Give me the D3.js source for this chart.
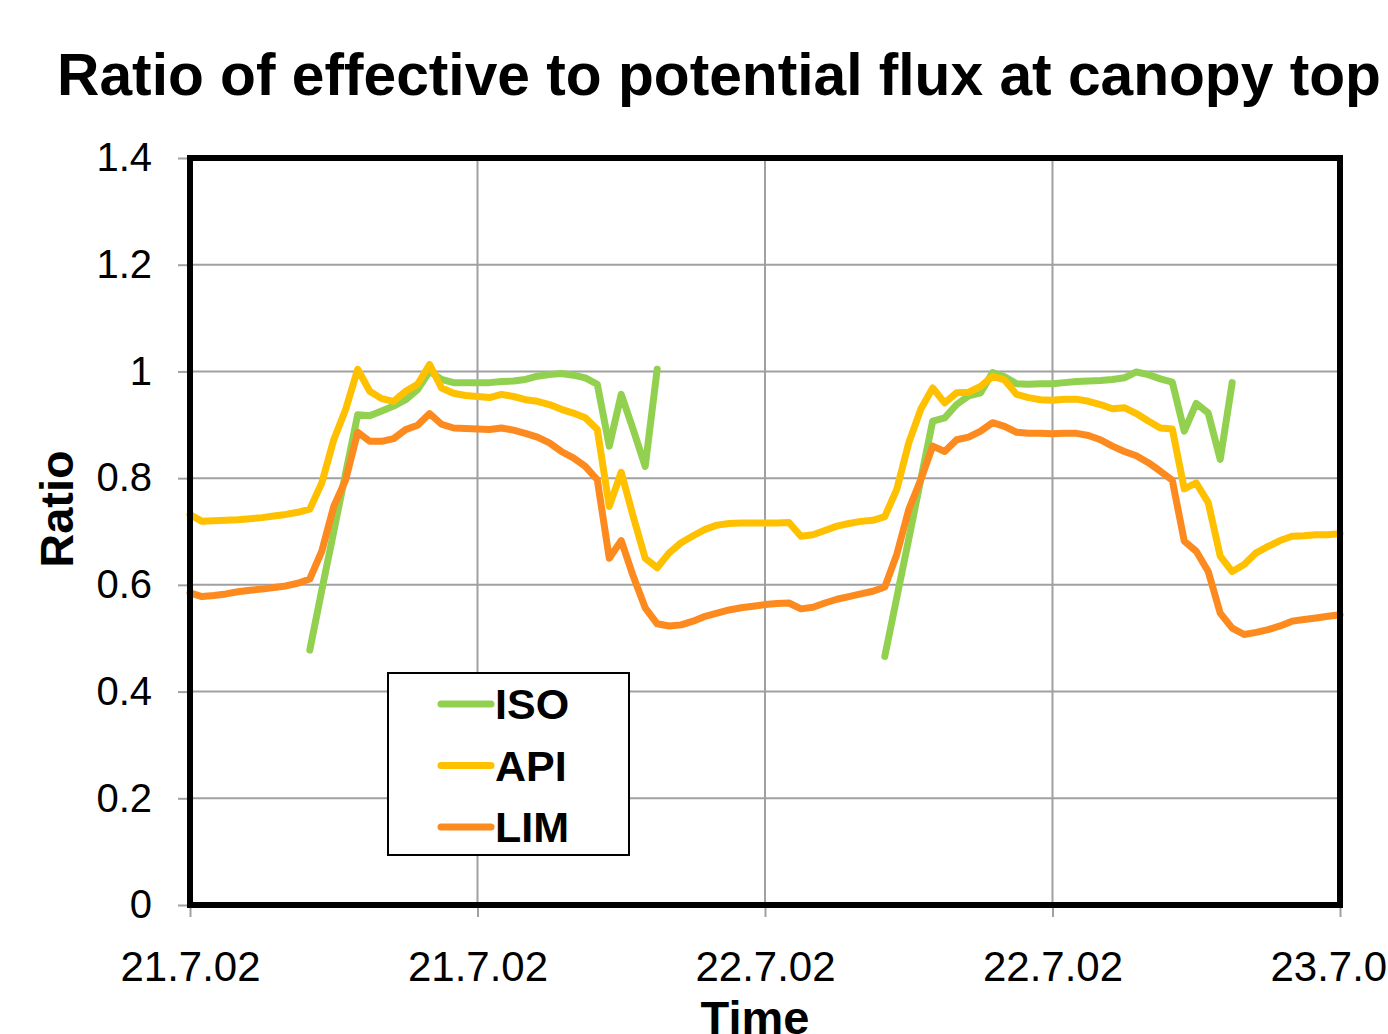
<!DOCTYPE html>
<html>
<head>
<meta charset="utf-8">
<script src="https://cdn.jsdelivr.net/npm/d3@7"></script>
<style>
  body { margin: 0; background: #fff; overflow: hidden; }
  text { font-family: "Liberation Sans", Arial, sans-serif; }
</style>
</head>
<body>
<div id="chart"></div>
<script>
// Ratio of effective to potential flux at canopy top

// half-hourly values, 21.7.02 00:00 to 23.7.02 00:00
var iso = [
  null, null, null, null, null, null, null, null, null, null,
  0.478, 0.59, 0.70, 0.81, 0.919, 0.917, 0.926, 0.935, 0.947, 0.966, 1.0, 0.985, 0.979, 0.979, 0.979,
  0.979, 0.981, 0.982, 0.985, 0.991, 0.994, 0.996, 0.993, 0.988, 0.976, 0.860, 0.957, 0.891, 0.822, 1.004,
  null, null, null, null, null, null, null, null, null,
  null, null, null, null, null, null, null, null, null,
  0.466, 0.576, 0.686, 0.797, 0.907, 0.913, 0.938, 0.954, 0.960, 0.998, 0.990, 0.977, 0.976, 0.977, 0.977,
  0.979, 0.981, 0.982, 0.983, 0.985, 0.988, 0.999, 0.994, 0.986, 0.980, 0.888, 0.940, 0.922, 0.835, 0.979,
  null, null, null, null, null, null, null, null, null
];
var api = [
  0.732, 0.719, 0.720, 0.721, 0.722, 0.724, 0.726, 0.729, 0.732, 0.736, 0.742,
  0.791, 0.872, 0.929, 1.004, 0.963, 0.949, 0.944, 0.963, 0.976, 1.013, 0.969, 0.959, 0.955, 0.953,
  0.951, 0.957, 0.953, 0.947, 0.944, 0.938, 0.929, 0.922, 0.913, 0.891, 0.747, 0.811, 0.728, 0.650, 0.632, 0.660, 0.679, 0.692, 0.704, 0.712, 0.715, 0.716, 0.716, 0.716,
  0.716, 0.717, 0.691, 0.694, 0.702, 0.710, 0.715, 0.719, 0.721, 0.728, 0.779, 0.866, 0.929, 0.969, 0.941, 0.960, 0.961, 0.972, 0.991, 0.984, 0.957, 0.951, 0.947, 0.946,
  0.948, 0.948, 0.944, 0.938, 0.930, 0.932, 0.921, 0.907, 0.894, 0.892, 0.780, 0.791, 0.754, 0.654, 0.625, 0.638, 0.660, 0.672, 0.683, 0.691, 0.692, 0.694, 0.694, 0.696
];
var lim = [
  0.585, 0.578, 0.580, 0.583, 0.587, 0.590, 0.592, 0.595, 0.598, 0.603, 0.611,
  0.663, 0.747, 0.797, 0.886, 0.869, 0.869, 0.874, 0.891, 0.899, 0.921, 0.901, 0.894, 0.893, 0.892,
  0.891, 0.894, 0.890, 0.884, 0.877, 0.866, 0.850, 0.838, 0.822, 0.797, 0.650, 0.683, 0.616, 0.557, 0.527, 0.523, 0.525, 0.532, 0.541, 0.547, 0.553, 0.557, 0.560, 0.563,
  0.565, 0.566, 0.555, 0.558, 0.566, 0.573, 0.578, 0.583, 0.588, 0.596, 0.657, 0.741, 0.797, 0.860, 0.850, 0.872, 0.877, 0.888, 0.904, 0.897, 0.886, 0.884, 0.884, 0.883,
  0.884, 0.884, 0.880, 0.872, 0.860, 0.850, 0.842, 0.829, 0.813, 0.796, 0.682, 0.663, 0.625, 0.547, 0.519, 0.507, 0.511, 0.516, 0.523, 0.532, 0.535, 0.538, 0.541, 0.544
];

var seriesNames = ["ISO", "API", "LIM"];
var seriesColors = ["#92d050", "#ffc000", "#fd8a1e"];

// x ticks every 12 hours
var xTickHours = [0, 12, 24, 36, 48];
var xTickLabels = ["21.7.02", "21.7.02", "22.7.02", "22.7.02", "23.7.02"];
var yTicks = [0, 0.2, 0.4, 0.6, 0.8, 1, 1.2, 1.4];

var svgWidth = 1388;
var svgHeight = 1034;
var margin = { top: 158, right: 48, bottom: 129, left: 190 };
var width = svgWidth - margin.left - margin.right;
var height = svgHeight - margin.top - margin.bottom;

var svg = d3.select("#chart")
  .append("svg")
  .attr("width", svgWidth)
  .attr("height", svgHeight);

var chartGroup = svg.append("g")
  .attr("transform", `translate(${margin.left},${margin.top})`);

var xScale = d3.scaleLinear().domain([0, 48]).range([0, width]);
var yScale = d3.scaleLinear().domain([0, 1.4]).range([height, 0]);

// gridlines
chartGroup.append("g")
  .selectAll("line")
  .data(yTicks)
  .enter()
  .append("line")
  .attr("x1", 0)
  .attr("x2", width)
  .attr("y1", d => yScale(d))
  .attr("y2", d => yScale(d))
  .attr("stroke", "#a0a0a0")
  .attr("stroke-width", 2);

chartGroup.append("g")
  .selectAll("line")
  .data(xTickHours)
  .enter()
  .append("line")
  .attr("x1", d => xScale(d))
  .attr("x2", d => xScale(d))
  .attr("y1", 0)
  .attr("y2", height)
  .attr("stroke", "#a0a0a0")
  .attr("stroke-width", 2);

// axes
var leftAxis = d3.axisLeft(yScale)
  .tickValues(yTicks)
  .tickFormat(d => d3.format("")(+d.toFixed(1)))
  .tickSize(12)
  .tickPadding(26);

var bottomAxis = d3.axisBottom(xScale)
  .tickValues(xTickHours)
  .tickFormat((d, i) => xTickLabels[i])
  .tickSize(12)
  .tickPadding(34);

var yAxis = chartGroup.append("g").call(leftAxis);
var xAxis = chartGroup.append("g")
  .attr("transform", `translate(0, ${height})`)
  .call(bottomAxis);

[yAxis, xAxis].forEach(ax => {
  ax.select(".domain").remove();
  ax.selectAll(".tick line").attr("stroke", "#a0a0a0").attr("stroke-width", 2);
  ax.selectAll(".tick text")
    .attr("fill", "#000")
    .style("font-family", "'Liberation Sans', Arial, sans-serif");
});
yAxis.selectAll(".tick text").style("font-size", "40px");
xAxis.selectAll(".tick text").style("font-size", "42px");

// lines
var line = d3.line()
  .defined(d => d != null)
  .x((d, i) => xScale(i * 0.5))
  .y(d => yScale(d));

[iso, api, lim].forEach((data, k) => {
  chartGroup.append("path")
    .datum(data)
    .attr("fill", "none")
    .attr("stroke", seriesColors[k])
    .attr("stroke-width", 7)
    .attr("stroke-linejoin", "round")
    .attr("stroke-linecap", "round")
    .attr("d", line);
});

// plot border
chartGroup.append("rect")
  .attr("x", 0)
  .attr("y", 0)
  .attr("width", width)
  .attr("height", height)
  .attr("fill", "none")
  .attr("stroke", "#000")
  .attr("stroke-width", 6);

// legend
var legend = chartGroup.append("g")
  .attr("transform", `translate(${198}, ${515})`);

legend.append("rect")
  .attr("width", 241)
  .attr("height", 182)
  .attr("fill", "#fff")
  .attr("stroke", "#000")
  .attr("stroke-width", 2);

seriesNames.forEach((name, k) => {
  var ly = 31 + k * 61.5;
  legend.append("line")
    .attr("x1", 53)
    .attr("x2", 103)
    .attr("y1", ly)
    .attr("y2", ly)
    .attr("stroke", seriesColors[k])
    .attr("stroke-width", 7)
    .attr("stroke-linecap", "round");
  legend.append("text")
    .attr("x", 107)
    .attr("y", ly + 15)
    .style("font-size", "43px")
    .style("font-weight", "bold")
    .text(name);
});

// title
svg.append("text")
  .attr("x", 719)
  .attr("y", 95)
  .attr("text-anchor", "middle")
  .style("font-size", "58.7px")
  .style("font-weight", "bold")
  .text("Ratio of effective to potential flux at canopy top");

// axis titles
svg.append("text")
  .attr("transform", "rotate(-90)")
  .attr("x", -509)
  .attr("y", 73)
  .attr("text-anchor", "middle")
  .style("font-size", "47px")
  .style("font-weight", "bold")
  .text("Ratio");

svg.append("text")
  .attr("x", 755)
  .attr("y", 1034)
  .attr("text-anchor", "middle")
  .style("font-size", "47px")
  .style("font-weight", "bold")
  .text("Time");
</script>
</body>
</html>
